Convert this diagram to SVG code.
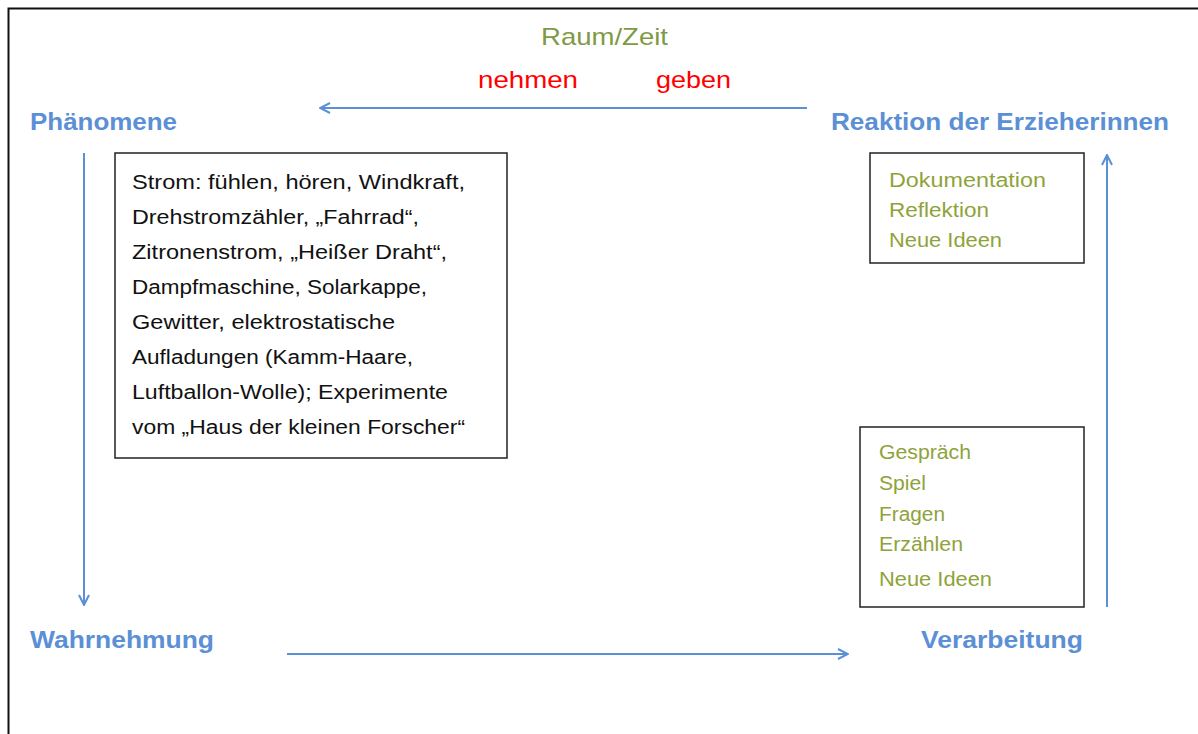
<svg xmlns="http://www.w3.org/2000/svg" width="1198" height="734" viewBox="0 0 1198 734">
<defs>
<style>
.h{font-family:"Liberation Sans",Arial,sans-serif;font-size:24px;font-weight:bold;fill:#5b8fd6}
.g{font-family:"Liberation Sans",Arial,sans-serif;font-size:20px;fill:#8ea33a}
.rz{font-family:"Liberation Sans",Arial,sans-serif;font-size:24px;fill:#7f9a45}
.r{font-family:"Liberation Sans",Arial,sans-serif;font-size:24px;fill:#ff0000}
.t{font-family:"Liberation Sans",Arial,sans-serif;font-size:19.5px;fill:#111}
.box{fill:#fff;stroke:#222;stroke-width:1.5}
.c{stroke:#5b8fd6;stroke-width:2;fill:none}
</style>
<marker id="ah" viewBox="0 0 12 12" refX="11" refY="6" markerWidth="12" markerHeight="12" markerUnits="userSpaceOnUse" orient="auto">
<path d="M1,1 L11,6 L1,11" fill="none" stroke="#5b8fd6" stroke-width="2"/>
</marker>
</defs>
<rect width="1198" height="734" fill="#fff"/>
<path d="M8.5,740 V8.5 H1205" fill="none" stroke="#111" stroke-width="2"/>
<g id="connectors">
<line class="c" x1="807" y1="108" x2="320" y2="108" marker-end="url(#ah)"/>
<line class="c" x1="84" y1="153" x2="84" y2="605" marker-end="url(#ah)"/>
<line class="c" x1="287" y1="654" x2="848" y2="654" marker-end="url(#ah)"/>
<line class="c" x1="1107" y1="607" x2="1107" y2="155" marker-end="url(#ah)"/>
</g>
<g id="raumzeit">
<text class="rz" x="541" y="45" textLength="127" lengthAdjust="spacingAndGlyphs">Raum/Zeit</text>
<text class="r" x="478" y="88" textLength="100" lengthAdjust="spacingAndGlyphs">nehmen</text>
<text class="r" x="656" y="88" textLength="75" lengthAdjust="spacingAndGlyphs">geben</text>
</g>
<g id="phaenomene">
<text class="h" x="30" y="130" textLength="147" lengthAdjust="spacingAndGlyphs">Phänomene</text>
</g>
<g id="reaktion">
<text class="h" x="831" y="130" textLength="338" lengthAdjust="spacingAndGlyphs">Reaktion der Erzieherinnen</text>
</g>
<g id="wahrnehmung">
<text class="h" x="30" y="648" textLength="184" lengthAdjust="spacingAndGlyphs">Wahrnehmung</text>
</g>
<g id="verarbeitung">
<text class="h" x="921" y="648" textLength="162" lengthAdjust="spacingAndGlyphs">Verarbeitung</text>
</g>
<g id="box-phaenomene">
<rect class="box" x="115" y="153" width="392" height="305"/>
<text class="t" x="132" y="189" textLength="333" lengthAdjust="spacingAndGlyphs">Strom: fühlen, hören, Windkraft,</text>
<text class="t" x="132" y="224" textLength="287" lengthAdjust="spacingAndGlyphs">Drehstromzähler, „Fahrrad“,</text>
<text class="t" x="132" y="259" textLength="315" lengthAdjust="spacingAndGlyphs">Zitronenstrom, „Heißer Draht“,</text>
<text class="t" x="132" y="294" textLength="295" lengthAdjust="spacingAndGlyphs">Dampfmaschine, Solarkappe,</text>
<text class="t" x="132" y="329" textLength="263" lengthAdjust="spacingAndGlyphs">Gewitter, elektrostatische</text>
<text class="t" x="132" y="364" textLength="281" lengthAdjust="spacingAndGlyphs">Aufladungen (Kamm-Haare,</text>
<text class="t" x="132" y="399" textLength="316" lengthAdjust="spacingAndGlyphs">Luftballon-Wolle);  Experimente</text>
<text class="t" x="132" y="434" textLength="333" lengthAdjust="spacingAndGlyphs">vom „Haus der kleinen Forscher“</text>
</g>
<g id="box-reaktion">
<rect class="box" x="870" y="153" width="214" height="110"/>
<text class="g" x="889" y="187" textLength="157" lengthAdjust="spacingAndGlyphs">Dokumentation</text>
<text class="g" x="889" y="217" textLength="100" lengthAdjust="spacingAndGlyphs">Reflektion</text>
<text class="g" x="889" y="247" textLength="113" lengthAdjust="spacingAndGlyphs">Neue Ideen</text>
</g>
<g id="box-verarbeitung">
<rect class="box" x="860" y="427" width="224" height="180"/>
<text class="g" x="879" y="459" textLength="92" lengthAdjust="spacingAndGlyphs">Gespräch</text>
<text class="g" x="879" y="490" textLength="47" lengthAdjust="spacingAndGlyphs">Spiel</text>
<text class="g" x="879" y="521" textLength="66" lengthAdjust="spacingAndGlyphs">Fragen</text>
<text class="g" x="879" y="551" textLength="84" lengthAdjust="spacingAndGlyphs">Erzählen</text>
<text class="g" x="879" y="586" textLength="113" lengthAdjust="spacingAndGlyphs">Neue Ideen</text>
</g>
</svg>
